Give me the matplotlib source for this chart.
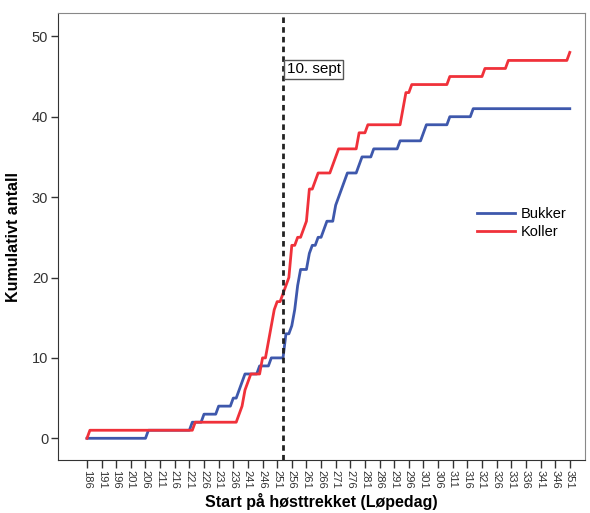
import matplotlib
matplotlib.use("Agg")
import matplotlib.pyplot as plt

plt.rcParams['font.family'] = ['Liberation Sans', 'DejaVu Sans']

# cumulative number of tagged animals by start day of the autumn migration
bukker_dag = [186, 206, 207, 221, 222, 225, 226, 230, 231, 235, 236, 237, 238, 239, 240,
              244, 245, 248, 249, 253, 254, 255, 256, 257, 258, 259, 261, 262, 263, 264,
              265, 266, 267, 268, 270, 271, 272, 273, 274, 275, 278, 279, 280, 283, 284,
              292, 293, 300, 301, 302, 309, 310, 317, 318, 351]
bukker_ant = [0, 0, 1, 1, 2, 2, 3, 3, 4, 4, 5, 5, 6, 7, 8,
              8, 9, 9, 10, 10, 13, 13, 14, 16, 19, 21, 21, 23, 24, 24,
              25, 25, 26, 27, 27, 29, 30, 31, 32, 33, 33, 34, 35, 35, 36,
              36, 37, 37, 38, 39, 39, 40, 40, 41, 41]

koller_dag = [186, 187, 222, 223, 237, 238, 239, 240, 241, 242, 245, 246, 247, 248, 249,
              250, 251, 252, 253, 254, 255, 256, 257, 258, 259, 260, 261, 262, 263, 264,
              265, 269, 270, 271, 272, 278, 279, 281, 282, 293, 294, 295, 296, 297, 309,
              310, 321, 322, 329, 330, 350, 351]
koller_ant = [0, 1, 1, 2, 2, 3, 4, 6, 7, 8, 8, 10, 10, 12, 14,
              16, 17, 17, 18, 19, 20, 24, 24, 25, 25, 26, 27, 31, 31, 32,
              33, 33, 34, 35, 36, 36, 38, 38, 39, 39, 41, 43, 43, 44, 44,
              45, 45, 46, 46, 47, 47, 48]

x_ticks = list(range(186, 352, 5))
y_ticks = [0, 10, 20, 30, 40, 50]
sept10 = 253

fig = plt.figure(figsize=(5.9, 5.13), dpi=100)
ax = fig.add_axes([58 / 590, 53 / 513, 527 / 590, 447 / 513])

ax.plot(bukker_dag, bukker_ant, color='#3E58AC', lw=2.0, label='Bukker')
ax.plot(koller_dag, koller_ant, color='#F0313A', lw=2.0, label='Koller')

ax.axvline(sept10, color='#222222', lw=2.0, ls=(0, (2, 1.5)))
ax.text(sept10 + 1.2, 45.9, '10. sept', fontsize=11, va='center', ha='left',
        bbox=dict(boxstyle='square,pad=0.15', fc='white', ec='#555555', lw=1))

ax.set_xlim(176.1, 356.2)
ax.set_ylim(-2.7, 52.9)
ax.set_xticks(x_ticks)
ax.set_xticklabels([str(t) for t in x_ticks], rotation=-90, fontsize=8, color='#333333')
ax.set_yticks(y_ticks)
ax.set_yticklabels([str(t) for t in y_ticks], fontsize=10.5, color='#333333')
ax.tick_params(axis='x', length=6, width=1, color='#333333', pad=1)
ax.tick_params(axis='y', length=5, width=1, color='#333333', pad=2)

for side in ['left', 'bottom']:
    ax.spines[side].set_color('#333333')
for side in ['top', 'right']:
    ax.spines[side].set_color('#888888')

ax.set_xlabel('Start på høsttrekket (Løpedag)', fontsize=11.5, fontweight='bold', labelpad=3)
ax.set_ylabel('Kumulativt antall', fontsize=11.5, fontweight='bold', labelpad=8)

ax.legend(loc='upper left', bbox_to_anchor=(0.77, 0.595), frameon=False, fontsize=10.5,
          handlelength=2.6, handletextpad=0.4, labelspacing=0.25)

fig.savefig('out.png', dpi=100)
